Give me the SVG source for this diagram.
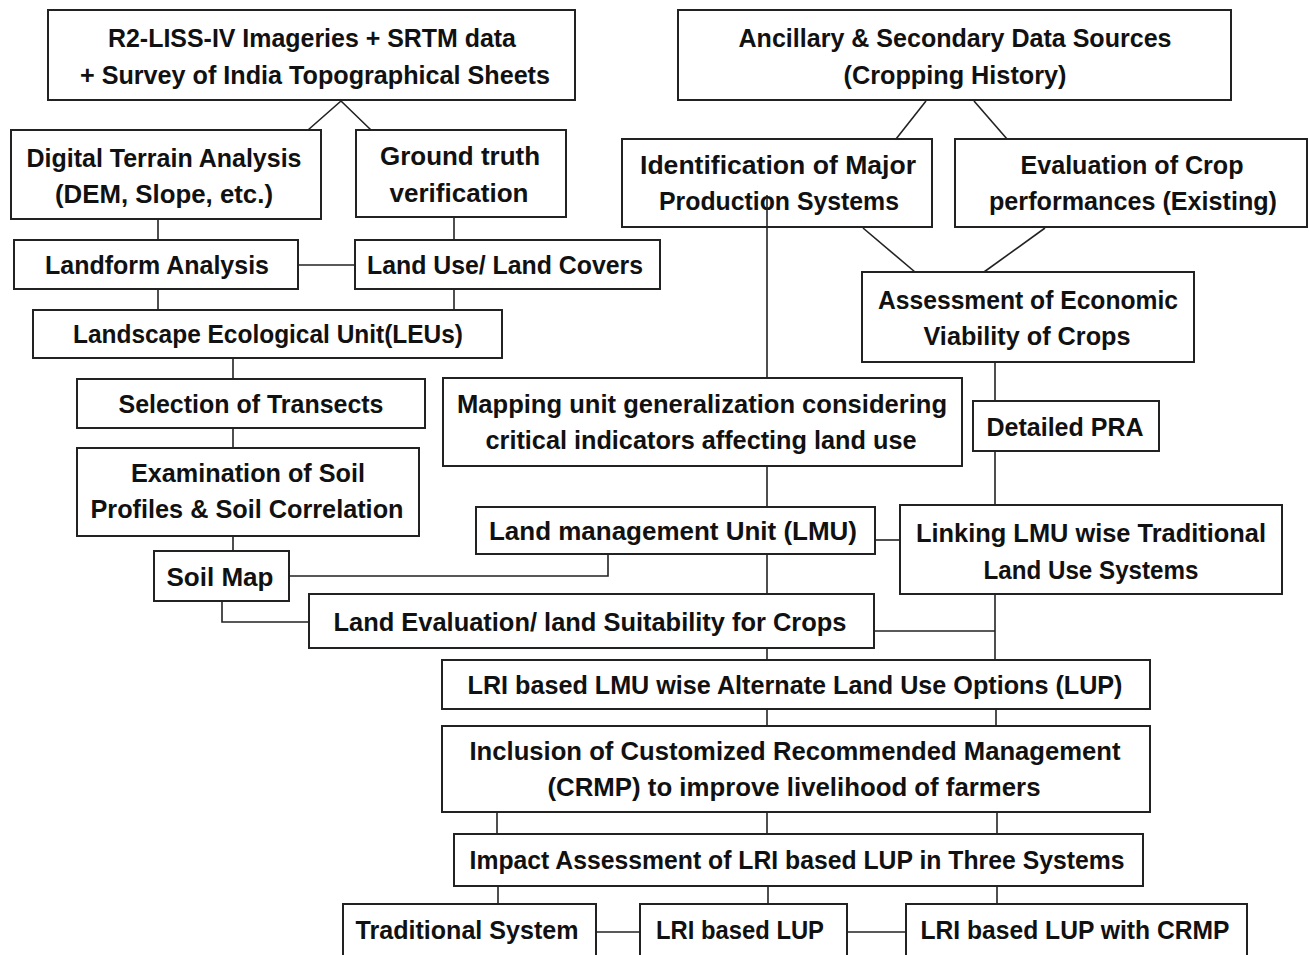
<svg xmlns="http://www.w3.org/2000/svg" width="1309" height="955" viewBox="0 0 1309 955">
<style>
.b{fill:#fff;stroke:#222;stroke-width:2}
.t{font-family:"Liberation Sans",Arial,sans-serif;font-weight:bold;font-size:25px;fill:#111;text-anchor:middle}
.c{fill:none;stroke:#222;stroke-width:1.6}
</style>
<rect width="1309" height="955" fill="#fff"/>
<g id="n1"><rect class="b" x="48" y="10" width="527" height="90"/>
<text class="t" x="312" y="47" textLength="408" lengthAdjust="spacingAndGlyphs">R2-LISS-IV Imageries + SRTM data</text>
<text class="t" x="315" y="84" textLength="470" lengthAdjust="spacingAndGlyphs">+ Survey of India Topographical Sheets</text></g>
<g id="n2"><rect class="b" x="678" y="10" width="553" height="90"/>
<text class="t" x="955" y="47" textLength="433" lengthAdjust="spacingAndGlyphs">Ancillary &amp; Secondary Data Sources</text>
<text class="t" x="955" y="84" textLength="223" lengthAdjust="spacingAndGlyphs">(Cropping History)</text></g>
<g id="n3"><rect class="b" x="11" y="130" width="310" height="89"/>
<text class="t" x="164" y="167" textLength="275" lengthAdjust="spacingAndGlyphs">Digital Terrain Analysis</text>
<text class="t" x="164" y="203" textLength="218" lengthAdjust="spacingAndGlyphs">(DEM, Slope, etc.)</text></g>
<g id="n4"><rect class="b" x="356" y="130" width="210" height="87"/>
<text class="t" x="460" y="165" textLength="160" lengthAdjust="spacingAndGlyphs">Ground truth</text>
<text class="t" x="459" y="202" textLength="139" lengthAdjust="spacingAndGlyphs">verification</text></g>
<g id="n5"><rect class="b" x="14" y="240" width="284" height="49"/>
<text class="t" x="157" y="274" textLength="224" lengthAdjust="spacingAndGlyphs">Landform Analysis</text></g>
<g id="n6"><rect class="b" x="355" y="240" width="305" height="49"/>
<text class="t" x="505" y="274" textLength="276" lengthAdjust="spacingAndGlyphs">Land Use/ Land Covers</text></g>
<g id="n7"><rect class="b" x="33" y="310" width="469" height="48"/>
<text class="t" x="268" y="343" textLength="390" lengthAdjust="spacingAndGlyphs">Landscape Ecological Unit(LEUs)</text></g>
<g id="n8"><rect class="b" x="77" y="379" width="348" height="49"/>
<text class="t" x="251" y="413" textLength="265" lengthAdjust="spacingAndGlyphs">Selection of Transects</text></g>
<g id="n9"><rect class="b" x="77" y="448" width="342" height="88"/>
<text class="t" x="248" y="482" textLength="234" lengthAdjust="spacingAndGlyphs">Examination of Soil</text>
<text class="t" x="247" y="518" textLength="313" lengthAdjust="spacingAndGlyphs">Profiles &amp; Soil Correlation</text></g>
<g id="n10"><rect class="b" x="154" y="551" width="135" height="50"/>
<text class="t" x="220" y="586" textLength="107" lengthAdjust="spacingAndGlyphs">Soil Map</text></g>
<g id="n11"><rect class="b" x="309" y="594" width="565" height="54"/>
<text class="t" x="590" y="631" textLength="513" lengthAdjust="spacingAndGlyphs">Land Evaluation/ land Suitability for Crops</text></g>
<g id="n12"><rect class="b" x="443" y="378" width="519" height="88"/>
<text class="t" x="702" y="413" textLength="490" lengthAdjust="spacingAndGlyphs">Mapping unit generalization considering</text>
<text class="t" x="701" y="449" textLength="431" lengthAdjust="spacingAndGlyphs">critical indicators affecting land use</text></g>
<g id="n13"><rect class="b" x="476" y="507" width="399" height="47"/>
<text class="t" x="673" y="540" textLength="368" lengthAdjust="spacingAndGlyphs">Land management Unit (LMU)</text></g>
<g id="n14"><rect class="b" x="622" y="139" width="310" height="88"/>
<text class="t" x="778" y="174" textLength="276" lengthAdjust="spacingAndGlyphs">Identification of Major</text>
<text class="t" x="779" y="210" textLength="240" lengthAdjust="spacingAndGlyphs">Production Systems</text></g>
<g id="n15"><rect class="b" x="955" y="139" width="352" height="88"/>
<text class="t" x="1132" y="174" textLength="223" lengthAdjust="spacingAndGlyphs">Evaluation of Crop</text>
<text class="t" x="1133" y="210" textLength="288" lengthAdjust="spacingAndGlyphs">performances (Existing)</text></g>
<g id="n16"><rect class="b" x="862" y="272" width="332" height="90"/>
<text class="t" x="1028" y="309" textLength="300" lengthAdjust="spacingAndGlyphs">Assessment of Economic</text>
<text class="t" x="1027" y="345" textLength="207" lengthAdjust="spacingAndGlyphs">Viability of Crops</text></g>
<g id="n17"><rect class="b" x="973" y="401" width="186" height="50"/>
<text class="t" x="1065" y="436" textLength="157" lengthAdjust="spacingAndGlyphs">Detailed PRA</text></g>
<g id="n18"><rect class="b" x="900" y="505" width="382" height="89"/>
<text class="t" x="1091" y="542" textLength="350" lengthAdjust="spacingAndGlyphs">Linking LMU wise Traditional</text>
<text class="t" x="1091" y="579" textLength="215" lengthAdjust="spacingAndGlyphs">Land Use Systems</text></g>
<g id="n19"><rect class="b" x="442" y="660" width="708" height="49"/>
<text class="t" x="795" y="694" textLength="655" lengthAdjust="spacingAndGlyphs">LRI based LMU wise Alternate Land Use Options (LUP)</text></g>
<g id="n20"><rect class="b" x="442" y="726" width="708" height="86"/>
<text class="t" x="795" y="760" textLength="651" lengthAdjust="spacingAndGlyphs">Inclusion of Customized Recommended Management</text>
<text class="t" x="794" y="796" textLength="493" lengthAdjust="spacingAndGlyphs">(CRMP) to improve livelihood of farmers</text></g>
<g id="n21"><rect class="b" x="454" y="834" width="689" height="52"/>
<text class="t" x="797" y="869" textLength="655" lengthAdjust="spacingAndGlyphs">Impact Assessment of LRI based LUP in Three Systems</text></g>
<g id="n22"><rect class="b" x="343" y="904" width="253" height="56"/>
<text class="t" x="467" y="939" textLength="223" lengthAdjust="spacingAndGlyphs">Traditional System</text></g>
<g id="n23"><rect class="b" x="640" y="904" width="207" height="56"/>
<text class="t" x="740" y="939" textLength="168" lengthAdjust="spacingAndGlyphs">LRI based LUP</text></g>
<g id="n24"><rect class="b" x="906" y="904" width="341" height="56"/>
<text class="t" x="1075" y="939" textLength="309" lengthAdjust="spacingAndGlyphs">LRI based LUP with CRMP</text></g>
<g id="connectors">
<polyline class="c" points="308,130 341,101 371,130"/>
<line class="c" x1="926" y1="101" x2="896" y2="139"/>
<line class="c" x1="974" y1="101" x2="1007" y2="139"/>
<line class="c" x1="863" y1="228" x2="915" y2="272"/>
<line class="c" x1="1045" y1="228" x2="984" y2="272"/>
<line class="c" x1="158" y1="219" x2="158" y2="240"/>
<line class="c" x1="454" y1="217" x2="454" y2="240"/>
<line class="c" x1="298" y1="265" x2="355" y2="265"/>
<line class="c" x1="158" y1="289" x2="158" y2="310"/>
<line class="c" x1="454" y1="289" x2="454" y2="310"/>
<line class="c" x1="233" y1="358" x2="233" y2="379"/>
<line class="c" x1="233" y1="428" x2="233" y2="448"/>
<line class="c" x1="233" y1="536" x2="233" y2="551"/>
<polyline class="c" points="289,576 608,576 608,554"/>
<polyline class="c" points="222,601 222,622 309,622"/>
<line class="c" x1="767" y1="195" x2="767" y2="378"/>
<line class="c" x1="767" y1="466" x2="767" y2="507"/>
<line class="c" x1="767" y1="554" x2="767" y2="594"/>
<line class="c" x1="767" y1="648" x2="767" y2="660"/>
<line class="c" x1="767" y1="709" x2="767" y2="726"/>
<line class="c" x1="995" y1="362" x2="995" y2="401"/>
<line class="c" x1="995" y1="451" x2="995" y2="505"/>
<line class="c" x1="875" y1="540" x2="900" y2="540"/>
<line class="c" x1="995" y1="594" x2="995" y2="660"/>
<line class="c" x1="874" y1="631" x2="995" y2="631"/>
<line class="c" x1="996" y1="709" x2="996" y2="726"/>
<line class="c" x1="497" y1="812" x2="497" y2="834"/>
<line class="c" x1="767" y1="812" x2="767" y2="834"/>
<line class="c" x1="997" y1="812" x2="997" y2="834"/>
<line class="c" x1="498" y1="886" x2="498" y2="904"/>
<line class="c" x1="768" y1="886" x2="768" y2="904"/>
<line class="c" x1="997" y1="886" x2="997" y2="904"/>
<line class="c" x1="596" y1="932" x2="640" y2="932"/>
<line class="c" x1="847" y1="932" x2="906" y2="932"/>
</g>
</svg>
